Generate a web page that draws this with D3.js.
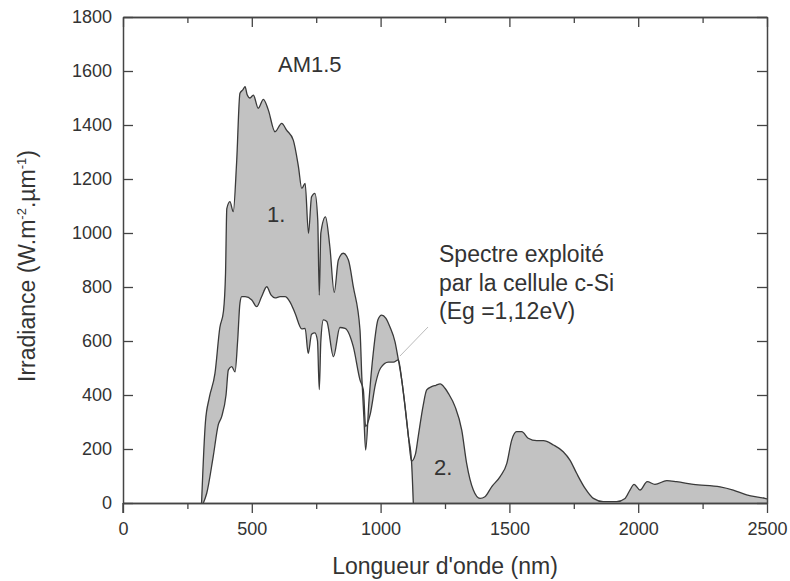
<!DOCTYPE html>
<html>
<head>
<meta charset="utf-8">
<script src="https://cdn.jsdelivr.net/npm/d3@7"></script>
<style>
  body { margin: 0; background: #fff; }
  svg text { font-family: "Liberation Sans", Arial, sans-serif; fill: #333; }
</style>
</head>
<body>
<div id="chart"></div>
<script>
const svgWidth = 790;
const svgHeight = 581;

// Spectre AM1.5 (nm, W.m-2.µm-1)
const am15 = [
  [305, 0], [320, 300], [335, 390], [357, 480], [376, 650], [390, 710], [398, 850],
  [403, 1090], [415, 1116], [428, 1079], [441, 1260], [454, 1518], [465, 1530],
  [474, 1542], [482, 1512], [493, 1500], [506, 1511], [525, 1462], [545, 1495],
  [564, 1456], [590, 1375], [616, 1406], [635, 1381], [661, 1344], [681, 1246],
  [694, 1165], [707, 1184], [720, 999], [732, 1134], [745, 1147], [756, 1048],
  [762, 770], [768, 1000], [786, 1060], [803, 949], [820, 780], [836, 900],
  [855, 925], [875, 900], [894, 801], [920, 641], [927, 468], [935, 320],
  [942, 196], [955, 380], [972, 560], [990, 680], [1004, 696], [1020, 685],
  [1036, 653], [1056, 597], [1069, 530], [1082, 456], [1095, 357], [1108, 246],
  [1120, 155], [1135, 180], [1146, 246], [1165, 360], [1179, 419], [1198, 431],
  [1215, 436], [1231, 441], [1250, 425], [1263, 406], [1289, 357], [1315, 270],
  [1334, 147], [1360, 48], [1386, 17], [1405, 23], [1431, 60], [1464, 98],
  [1490, 147], [1509, 233], [1528, 264], [1548, 264], [1573, 240], [1606, 231],
  [1632, 231], [1671, 215], [1709, 190], [1735, 159], [1761, 110], [1794, 54],
  [1826, 17], [1864, 5], [1916, 5], [1949, 17], [1968, 48], [1984, 69],
  [2007, 48], [2035, 79], [2065, 69], [2111, 83], [2149, 79], [2214, 69],
  [2318, 60], [2369, 48], [2421, 30], [2492, 17], [2500, 15]
];

// Spectre exploité par la cellule c-Si
const cSi = [
  [312, 0], [325, 36], [350, 171], [370, 290], [383, 320], [400, 400], [409, 493],
  [422, 505], [435, 486], [445, 600], [454, 740], [461, 764], [474, 764],
  [500, 752], [519, 727], [538, 764], [558, 801], [575, 770], [590, 760],
  [610, 764], [629, 764], [648, 745], [668, 703], [694, 645], [707, 647],
  [719, 554], [732, 625], [745, 630], [755, 600], [762, 420], [768, 600],
  [778, 678], [791, 672], [817, 542], [842, 650], [862, 647], [894, 579],
  [920, 456], [933, 419], [942, 283], [960, 330], [980, 440], [1000, 500],
  [1030, 522], [1050, 522], [1069, 530], [1082, 456], [1095, 357], [1108, 246],
  [1120, 155], [1127, 0]
];

const xTicks = [0, 500, 1000, 1500, 2000, 2500];
const xMinorTicks = [250, 750, 1250, 1750, 2250];
const yTicks = [0, 200, 400, 600, 800, 1000, 1200, 1400, 1600, 1800];

const svg = d3.select("#chart")
  .append("svg")
  .attr("width", svgWidth)
  .attr("height", svgHeight);

const x = d3.scaleLinear().domain([0, 2500]).range([123, 767]);
const y = d3.scaleLinear().domain([0, 1800]).range([503, 17]);

const line = d3.line()
  .x(d => x(d[0]))
  .y(d => y(d[1]))
  .curve(d3.curveMonotoneX);

// zone grise : entre les deux courbes (1.) puis sous AM1.5 (2.)
const lowerBack = cSi.concat([[2500, 0]]).reverse();
svg.append("path")
  .attr("d", line(am15) + "L" + line(lowerBack).slice(1) + "Z")
  .attr("fill", "#c2c2c2")
  .attr("stroke", "none");

svg.append("path")
  .attr("d", line(cSi))
  .attr("fill", "none")
  .attr("stroke", "#3a3a3a")
  .attr("stroke-width", 1.3);

svg.append("path")
  .attr("d", line(am15))
  .attr("fill", "none")
  .attr("stroke", "#3a3a3a")
  .attr("stroke-width", 1.3);

// Axes
const axisColor = "#444";
const fmt = d3.format("d");
function styleAxis(g) {
  g.selectAll(".domain").attr("stroke", axisColor).attr("stroke-width", 1.5);
  g.selectAll(".tick line").attr("stroke", axisColor).attr("stroke-width", 1.3);
  g.selectAll(".tick text")
    .attr("font-family", "Liberation Sans, Arial, sans-serif")
    .attr("font-size", 18)
    .attr("fill", "#333");
}

svg.append("g")
  .attr("transform", `translate(0,${y(0)})`)
  .call(d3.axisBottom(x).tickValues(xTicks).tickFormat(fmt).tickSize(10).tickSizeOuter(0).tickPadding(9))
  .call(styleAxis);

svg.append("g")
  .attr("transform", `translate(0,${y(0)})`)
  .call(d3.axisBottom(x).tickValues(xMinorTicks).tickSize(6).tickSizeOuter(0).tickFormat(""))
  .call(styleAxis);

svg.append("g")
  .attr("transform", `translate(0,${y(1800)})`)
  .call(d3.axisTop(x).tickValues(xTicks).tickSize(-10).tickSizeOuter(0).tickFormat(""))
  .call(styleAxis);

svg.append("g")
  .attr("transform", `translate(0,${y(1800)})`)
  .call(d3.axisTop(x).tickValues(xMinorTicks).tickSize(-6).tickSizeOuter(0).tickFormat(""))
  .call(styleAxis);

svg.append("g")
  .attr("transform", `translate(${x(0)},0)`)
  .call(d3.axisLeft(y).tickValues(yTicks).tickFormat(fmt).tickSize(-10).tickSizeOuter(0).tickPadding(11))
  .call(styleAxis);

svg.append("g")
  .attr("transform", `translate(${x(2500)},0)`)
  .call(d3.axisRight(y).tickValues(yTicks).tickSize(-10).tickSizeOuter(0).tickFormat(""))
  .call(styleAxis);

// prolongement de l'axe gauche sous le zéro
svg.append("line")
  .attr("x1", x(0)).attr("x2", x(0))
  .attr("y1", y(0)).attr("y2", y(0) + 10)
  .attr("stroke", axisColor).attr("stroke-width", 1.5);

// Titres des axes
svg.append("text")
  .attr("x", 445)
  .attr("y", 574)
  .attr("text-anchor", "middle")
  .attr("font-size", 23)
  .text("Longueur d'onde (nm)");

const yTitle = svg.append("text")
  .attr("transform", "translate(35,266) rotate(-90)")
  .attr("text-anchor", "middle")
  .attr("font-size", 23);
yTitle.append("tspan").text("Irradiance (W.m");
yTitle.append("tspan").attr("font-size", 13).attr("dy", -9).text("-2");
yTitle.append("tspan").attr("dy", 9).text(".µm");
yTitle.append("tspan").attr("font-size", 13).attr("dy", -9).text("-1");
yTitle.append("tspan").attr("dy", 9).text(")");

// Annotations
svg.append("text").attr("x", 278).attr("y", 72).attr("font-size", 22).text("AM1.5");
svg.append("text").attr("x", 267).attr("y", 222).attr("font-size", 22).text("1.");
svg.append("text").attr("x", 434).attr("y", 475).attr("font-size", 22).text("2.");

const note = ["Spectre exploité", "par la cellule c-Si", "(Eg =1,12eV)"];
svg.selectAll(".note")
  .data(note)
  .enter()
  .append("text")
  .attr("class", "note")
  .attr("x", 439)
  .attr("y", (d, i) => 262 + i * 28.5)
  .attr("font-size", 23)
  .text(d => d);

svg.append("line")
  .attr("x1", 428).attr("y1", 327)
  .attr("x2", 400).attr("y2", 356)
  .attr("stroke", "#bbb")
  .attr("stroke-width", 1);
</script>
</body>
</html>
